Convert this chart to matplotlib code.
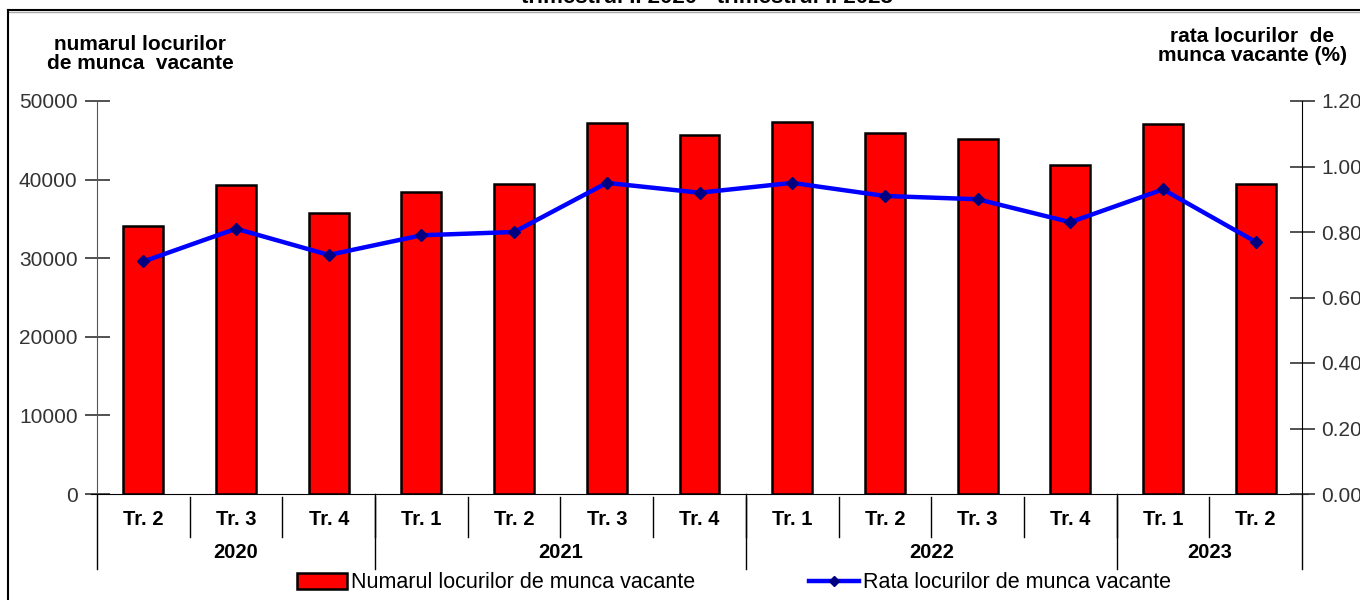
import matplotlib.pyplot as plt
from matplotlib.lines import Line2D
from matplotlib.patches import Patch
import numpy as np

plt.rcParams['font.family'] = ['Liberation Sans', 'DejaVu Sans']

quarters = ['Tr. 2', 'Tr. 3', 'Tr. 4',
            'Tr. 1', 'Tr. 2', 'Tr. 3', 'Tr. 4',
            'Tr. 1', 'Tr. 2', 'Tr. 3', 'Tr. 4',
            'Tr. 1', 'Tr. 2']
years = ['2020', '2021', '2022', '2023']
year_sizes = [3, 4, 4, 2]
vacancies = [34100, 39300, 35700, 38400, 39400, 47200, 45700,
             47300, 45900, 45200, 41900, 47100, 39400]
rate = [0.71, 0.81, 0.73, 0.79, 0.80, 0.95, 0.92,
        0.95, 0.91, 0.90, 0.83, 0.93, 0.77]

fig = plt.figure(figsize=(13.6, 6), dpi=100)
ax = fig.add_axes([97 / 1360, 1 - 494 / 600, 1205 / 1360, 393 / 600])
ax2 = ax.twinx()

x = np.arange(len(quarters))
ax.bar(x, vacancies, width=0.43, color='#ff0000', edgecolor='black',
       linewidth=1.8, zorder=2)
ax2.plot(x, rate, color='#0000ff', lw=3.2, marker='D', markersize=6,
         markerfacecolor='#000080', markeredgecolor='#000080', zorder=3)

ax.set_xlim(-0.5, len(quarters) - 0.5)
ax.set_ylim(0, 50000)
ax2.set_ylim(0, 1.2)
ax.set_yticks(np.arange(0, 50001, 10000))
ax2.set_yticks(np.arange(0, 1.21, 0.2))
ax2.set_yticklabels([f'{v:.2f}' for v in np.arange(0, 1.21, 0.2)])

for a in (ax, ax2):
    a.spines['top'].set_visible(False)
    a.patch.set_visible(False)
ax.spines['right'].set_visible(False)
ax2.spines['left'].set_visible(False)
ax.spines['left'].set_color('#555555')
ax2.spines['bottom'].set_visible(False)
ax.spines['bottom'].set_bounds(-0.5 - 0.07, len(quarters) - 0.5 + 0.07)

ax.tick_params(axis='y', direction='inout', length=18, width=1.2,
               colors='#333333', labelsize=15, pad=5)
ax2.tick_params(axis='y', direction='inout', length=18, width=1.2,
                colors='#333333', labelsize=15, pad=5)
ax.tick_params(axis='x', length=0, pad=0)
ax.set_xticks(x)
ax.set_xticklabels([])

# quarter labels and separators
trans = ax.get_xaxis_transform()
for i, q in enumerate(quarters):
    ax.text(i, -0.064, q, transform=trans, ha='center', va='center',
            fontsize=14.5, fontweight='bold')
for i in range(1, len(quarters)):
    ax.plot([i - 0.5, i - 0.5], [-0.008, -0.11], transform=trans,
            color='black', lw=1, clip_on=False)

edges = np.concatenate([[0], np.cumsum(year_sizes)]) - 0.5
for e in edges:
    ax.plot([e, e], [0, -0.19], transform=trans, color='black', lw=1,
            clip_on=False)
for yr, a, b in zip(years, edges[:-1], edges[1:]):
    ax.text((a + b) / 2, -0.150, yr, transform=trans, ha='center',
            va='center', fontsize=14.5, fontweight='bold')

# axis titles
fig.text(140 / 1360, 1 - 54 / 600, 'numarul locurilor\nde munca  vacante',
         ha='center', va='center', fontsize=15, fontweight='bold',
         linespacing=1.0)
fig.text(1347 / 1360, 1 - 46 / 600, 'rata locurilor  de\nmunca vacante (%)',
         ha='right', va='center', fontsize=15, fontweight='bold',
         linespacing=1.0, multialignment='center')

# title, mostly cut off at the top
fig.text(707 / 1360, 1 - 3 / 600, 'trimestrul II 2020 - trimestrul II 2023',
         ha='center', va='baseline', fontsize=16, fontweight='bold')

# frame of the original chart
fig.add_artist(Line2D([8 / 1360, 1], [1 - 10 / 600, 1 - 10 / 600],
                      transform=fig.transFigure, color='black', lw=1.5))
fig.add_artist(Line2D([8 / 1360, 1], [1 - 12 / 600, 1 - 12 / 600],
                      transform=fig.transFigure, color='#aaaaaa', lw=1))
fig.add_artist(Line2D([8 / 1360, 8 / 1360], [0, 1 - 10 / 600],
                      transform=fig.transFigure, color='black', lw=1.5))

handles = [Patch(facecolor='#ff0000', edgecolor='black', linewidth=1.8),
           Line2D([], [], color='#0000ff', lw=3.2, marker='D', markersize=5,
                  markerfacecolor='#000080', markeredgecolor='#000080')]
labels = ['Numarul locurilor de munca vacante',
          'Rata locurilor de munca vacante']
fig.legend(handles, labels, loc='center', ncol=2,
           bbox_to_anchor=(734 / 1360, 1 - 583 / 600), frameon=False,
           prop={'family': 'Liberation Sans', 'size': 15.5},
           handlelength=2.3, handleheight=0.8, handletextpad=0.2,
           columnspacing=5.3, borderpad=0)

fig.savefig('out.png', dpi=100)
